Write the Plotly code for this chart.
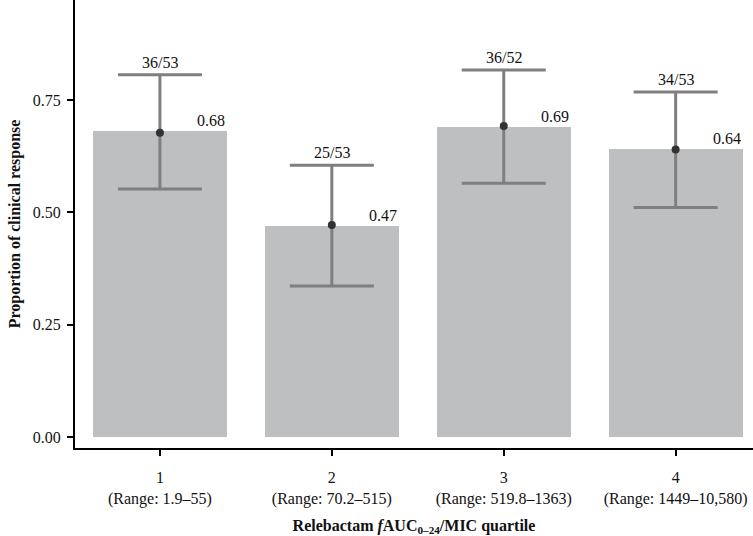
import plotly.graph_objects as go

quartiles = [1, 2, 3, 4]
range_labels = ["(Range: 1.9–55)", "(Range: 70.2–515)", "(Range: 519.8–1363)", "(Range: 1449–10,580)"]
proportions = [0.68, 0.47, 0.69, 0.64]
points = [0.677, 0.472, 0.692, 0.640]
ci_upper = [0.806, 0.605, 0.817, 0.768]
ci_lower = [0.552, 0.336, 0.565, 0.511]
counts = ["36/53", "25/53", "36/52", "34/53"]
value_labels = ["0.68", "0.47", "0.69", "0.64"]

font_family = "Liberation Serif"
fs = 16

fig = go.Figure()
fig.add_trace(go.Bar(
    x=quartiles, y=proportions, width=0.78,
    marker=dict(color="#bebfc1", line=dict(width=0)),
    hoverinfo="skip", showlegend=False,
))
fig.add_trace(go.Scatter(
    x=quartiles, y=points, mode="markers",
    marker=dict(color="#333333", size=8),
    error_y=dict(
        type="data", symmetric=False,
        array=[u - p for u, p in zip(ci_upper, points)],
        arrayminus=[p - l for p, l in zip(points, ci_lower)],
        color="#7f7f7f", thickness=3, width=42,
    ),
    showlegend=False,
))

for q, u, c in zip(quartiles, ci_upper, counts):
    fig.add_annotation(x=q, y=u, text=c, showarrow=False, yanchor="bottom",
                       yshift=2, font=dict(family=font_family, size=fs, color="#111"))
for q, p, v in zip(quartiles, proportions, value_labels):
    fig.add_annotation(x=q + 0.3, y=p, text=v, showarrow=False, yanchor="bottom",
                       yshift=0, font=dict(family=font_family, size=fs, color="#111"))

fig.update_layout(
    width=753, height=536,
    margin=dict(l=75, r=0, t=0, b=88),
    plot_bgcolor="white", paper_bgcolor="white",
    font=dict(family=font_family, size=fs, color="#111"),
    bargap=0,
)
fig.update_xaxes(
    range=[0.506, 4.45],
    tickmode="array", tickvals=quartiles,
    ticktext=[f"{q}<br>{r}" for q, r in zip(quartiles, range_labels)],
    showline=True, linecolor="black", linewidth=2,
    ticks="outside", ticklen=6, tickcolor="black", tickwidth=1.5,
    ticklabelstandoff=8,
    showgrid=False, zeroline=False,
    title=dict(text="<b>Relebactam <i>f</i>AUC<sub>0–24</sub>/MIC quartile</b>",
               font=dict(family=font_family, size=fs), standoff=14),
)
fig.update_yaxes(
    range=[-0.0245, 0.9726],
    tickmode="array", tickvals=[0, 0.25, 0.5, 0.75],
    ticktext=["0.00", "0.25", "0.50", "0.75"],
    showline=True, linecolor="black", linewidth=2,
    ticks="outside", ticklen=6, tickcolor="black", tickwidth=1.5,
    ticklabelstandoff=3,
    showgrid=False, zeroline=False,
    title=dict(text="<b>Proportion of clinical response</b>",
               font=dict(family=font_family, size=fs), standoff=8),
)

fig.write_html("out.html")
